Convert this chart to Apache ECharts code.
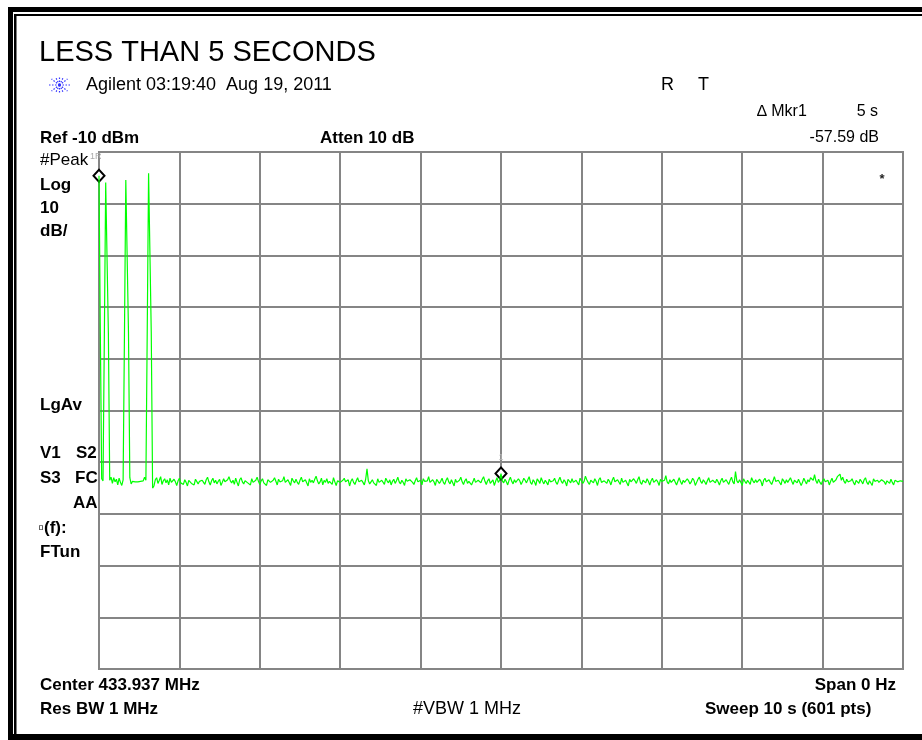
<!DOCTYPE html>
<html><head><meta charset="utf-8">
<script src="https://cdn.jsdelivr.net/npm/echarts@6/dist/echarts.min.js"></script>
<style>html,body{margin:0;padding:0;background:#fff}#c{width:922px;height:740px}</style>
</head><body><div id="c"></div>
<script>
// ---- data ----
const chartTitle = 'LESS THAN 5 SECONDS';
const headerLine = 'Agilent 03:19:40  Aug 19, 2011';
const sweepSeconds = 10;
const sweepPoints = 601;
const refLevel = -10;      // dBm, top of screen
const dbPerDiv = 10;
const yDivisions = 10;
const xDivisions = 10;
const markerIdx = [0, 300];   // 1R at 0 s, 1 at 5 s
const markerLabels = ['1R', '1'];
const leftLabels = ['#Peak', 'Log', '10', 'dB/', 'LgAv', 'V1', 'S2', 'S3', 'FC', 'AA', '\u25AB(f):', 'FTun'];
const bottomLabels = ['Center 433.937 MHz', 'Span 0 Hz', 'Res BW 1 MHz', '#VBW 1 MHz', 'Sweep 10 s (601 pts)'];
const topLabels = ['Ref -10 dBm', 'Atten 10 dB', '\u2206 Mkr1', '5 s', '-57.59 dB', 'R', 'T'];

// trace values (dBm), one per sweep point
const trace = [
-14.6,-45.0,-73.2,-73.6,-45.5,-15.9,-16.1,-45.0,-73.5,-72.9,-74.1,-73.0,-73.8,-73.3,-74.4,-73.1,-73.9,-74.5,-73.4,-45.2,
-15.4,-15.6,-44.8,-73.0,-74.2,-73.7,-73.8,-73.8,-73.9,-73.8,-73.8,-73.7,-73.9,-73.6,-72.9,-73.5,-44.5,-14.1,-14.3,-44.9,
-75.0,-74.6,-73.4,-73.0,-74.1,-73.5,-72.8,-74.3,-73.6,-73.2,-74.0,-73.4,-74.4,-73.1,-73.9,-74.2,-73.3,-73.8,-74.5,-73.6,
-73.1,-74.0,-73.7,-74.3,-73.4,-73.9,-74.6,-73.5,-73.2,-74.1,-73.8,-74.4,-73.3,-73.0,-74.2,-73.7,-74.0,-73.5,-73.9,-74.3,
-73.4,-72.9,-73.8,-74.4,-73.6,-73.1,-74.0,-73.5,-74.2,-73.7,-73.3,-74.5,-73.9,-73.2,-73.8,-74.1,-73.4,-72.8,-73.6,-74.0,
-73.5,-74.3,-73.1,-73.9,-74.6,-73.4,-73.0,-73.8,-74.2,-73.6,-73.3,-74.0,-73.7,-74.4,-73.2,-73.9,-74.1,-73.5,-72.9,-73.7,
-74.3,-73.6,-73.2,-74.0,-73.8,-74.5,-73.4,-73.1,-73.9,-74.2,-73.5,-73.0,-73.7,-74.4,-73.3,-73.8,-74.1,-73.6,-72.8,-73.9,
-74.2,-73.4,-73.7,-74.5,-73.1,-73.6,-74.0,-73.3,-73.9,-74.3,-73.5,-72.9,-73.8,-74.1,-73.4,-73.7,-74.6,-73.2,-73.9,-73.5,
-74.0,-73.3,-72.7,-73.6,-74.2,-73.8,-73.1,-74.4,-73.5,-73.9,-73.2,-74.1,-73.7,-73.4,-74.3,-73.0,-73.8,-74.5,-73.6,-73.3,
-73.9,-74.2,-73.5,-73.1,-73.8,-74.0,-73.4,-74.6,-73.7,-73.2,-73.9,-74.3,-73.6,-73.0,-73.8,-74.1,-73.5,-73.9,-74.4,-73.3,
-71.3,-73.6,-74.2,-73.8,-73.4,-74.0,-73.7,-74.5,-73.2,-73.9,-74.1,-73.5,-73.8,-74.3,-73.1,-73.6,-74.0,-73.4,-74.4,-73.7,
-73.3,-74.1,-73.6,-72.9,-73.8,-74.2,-73.5,-73.9,-74.5,-73.2,-73.7,-74.0,-73.4,-73.1,-73.9,-74.3,-73.6,-73.0,-73.8,-74.1,
-73.5,-74.4,-73.2,-73.7,-74.0,-73.6,-72.8,-73.9,-74.2,-73.4,-73.8,-74.5,-73.3,-73.6,-74.1,-73.7,-73.1,-73.9,-74.3,-73.5,
-73.0,-73.8,-74.2,-73.4,-73.7,-74.6,-73.3,-73.9,-74.0,-73.5,-72.9,-73.8,-74.3,-73.6,-73.2,-74.1,-73.7,-73.4,-74.4,-73.8,
-73.1,-73.9,-74.2,-73.5,-73.8,-74.0,-73.3,-72.8,-73.7,-74.3,-73.6,-73.2,-74.1,-73.8,-73.4,-74.5,-73.7,-73.0,-73.9,-73.5,
-72.19,-73.6,-74.0,-73.3,-73.8,-74.4,-73.5,-72.9,-73.7,-74.2,-73.4,-73.9,-74.1,-73.2,-73.6,-74.3,-73.8,-73.1,-73.5,-74.0,
-73.7,-72.8,-73.9,-74.3,-73.4,-73.8,-74.5,-73.2,-73.6,-74.1,-73.0,-73.7,-74.2,-73.5,-73.9,-74.4,-73.3,-73.8,-74.0,-73.6,
-73.1,-73.9,-74.3,-73.5,-72.9,-73.7,-74.1,-73.4,-73.8,-74.6,-73.3,-73.6,-74.0,-73.2,-73.9,-74.2,-73.5,-73.8,-74.4,-73.1,
-73.6,-74.1,-73.7,-72.7,-73.4,-73.9,-74.3,-73.5,-73.8,-74.0,-73.2,-73.7,-74.5,-73.4,-73.0,-73.9,-74.2,-73.6,-73.8,-74.1,
-73.3,-73.7,-74.4,-73.5,-72.9,-73.8,-74.0,-73.4,-73.6,-74.3,-73.1,-73.9,-74.2,-73.5,-73.7,-74.6,-73.3,-73.8,-74.0,-73.2,
-73.6,-74.1,-73.4,-72.8,-73.9,-74.3,-73.5,-73.8,-74.0,-73.2,-73.7,-74.4,-73.6,-73.1,-73.9,-74.2,-73.4,-73.8,-74.5,-73.3,
-73.7,-74.0,-73.5,-72.6,-73.8,-74.2,-73.4,-73.9,-74.1,-73.3,-73.6,-74.4,-73.7,-73.0,-73.8,-74.3,-73.5,-73.9,-74.0,-73.2,
-73.6,-74.2,-73.8,-73.1,-73.5,-74.5,-73.9,-73.3,-72.9,-73.7,-74.1,-73.4,-73.8,-74.3,-73.6,-73.0,-73.9,-74.2,-73.5,-73.7,
-74.0,-73.3,-73.8,-74.4,-73.6,-73.1,-73.9,-74.1,-73.4,-73.7,-74.3,-73.5,-72.9,-73.8,-74.2,-71.8,-73.6,-74.0,-73.4,-73.9,
-74.5,-73.2,-73.7,-74.1,-73.5,-73.8,-74.3,-73.0,-73.6,-74.0,-73.4,-73.9,-74.2,-73.3,-73.7,-74.6,-73.5,-73.1,-73.8,-74.1,
-73.4,-73.9,-74.3,-73.6,-72.8,-73.7,-74.0,-73.5,-73.8,-74.4,-73.2,-73.6,-74.1,-73.4,-73.9,-74.2,-73.0,-73.7,-74.3,-73.5,
-73.8,-74.0,-73.3,-73.6,-74.5,-73.9,-73.1,-73.7,-74.2,-73.4,-73.8,-73.0,-72.9,-73.5,-72.4,-73.6,-74.1,-73.3,-73.9,-74.3,
-73.6,-73.2,-73.8,-74.0,-73.5,-74.4,-73.7,-73.1,-73.9,-74.2,-73.4,-72.8,-73.0,-72.3,-73.5,-72.9,-73.7,-74.1,-73.3,-73.8,
-74.0,-73.6,-73.2,-73.9,-74.4,-73.5,-73.8,-74.1,-73.3,-73.7,-74.2,-73.4,-73.0,-73.9,-74.3,-73.6,-73.8,-74.5,-73.2,-73.7,
-74.0,-73.5,-73.9,-74.2,-73.4,-73.1,-73.8,-74.3,-73.6,-73.7,-74.1,-73.3,-73.9,-74.4,-73.5,-73.2,-73.8,-74.0,-73.6,-73.9,
-73.7
];

// ---- chart ----
const FF = "'Liberation Sans', Arial, sans-serif";
const chart = echarts.init(document.getElementById('c'), null, {renderer: 'canvas'});
const seriesData = trace.map((v, i) => [i * sweepSeconds / (sweepPoints - 1), v]);
const yMax = refLevel, yMin = refLevel - dbPerDiv * yDivisions;

function T(x, y, text, size, bold, opts) {
  opts = opts || {};
  return {type: 'text', x: x, y: y, z: 100, silent: true,
    style: {text: text, fill: opts.fill || '#000',
      font: (bold ? 'bold ' : '') + size + 'px ' + FF,
      textAlign: opts.align || 'left', textVerticalAlign: 'middle'}};
}
function R(x, y, w, h, c) {
  return {type: 'rect', shape: {x: x, y: y, width: w, height: h}, style: {fill: c || '#000'}, silent: true, z: 100};
}

const graphics = [
  // frame
  R(8, 7, 914, 5), R(14, 14, 908, 2),
  R(8, 7, 5, 733), R(14, 14, 2.5, 726),
  R(8, 734, 914, 6),
  // title and header
  T(39, 53, chartTitle, 29, false),
  T(86, 85, headerLine, 18, false),
  T(661, 85, topLabels[5], 18, false),
  T(698, 85, topLabels[6], 18, false),
  T(757, 112, topLabels[2], 16, false),
  T(878, 112, topLabels[3], 16, false, {align: 'right'}),
  T(879, 138, topLabels[4], 16, false, {align: 'right'}),
  T(40, 138, topLabels[0], 17, true),
  T(320, 138, topLabels[1], 17, true),
  // left annotations
  T(40, 160, leftLabels[0], 17, false),
  T(40, 185, leftLabels[1], 17, true),
  T(40, 208, leftLabels[2], 17, true),
  T(40, 231, leftLabels[3], 17, true),
  T(40, 405, leftLabels[4], 17, true),
  T(40, 453, leftLabels[5], 17, true),
  T(76, 453, leftLabels[6], 17, true),
  T(40, 478, leftLabels[7], 17, true),
  T(75, 478, leftLabels[8], 17, true),
  T(73, 503, leftLabels[9], 17, true),
  T(38, 528, leftLabels[10], 17, true),
  T(40, 552, leftLabels[11], 17, true),
  // bottom annotations
  T(40, 685, bottomLabels[0], 17, true),
  T(896, 685, bottomLabels[1], 17, true, {align: 'right'}),
  T(40, 709, bottomLabels[2], 17, true),
  T(413, 709, bottomLabels[3], 18, false),
  T(705, 709, bottomLabels[4], 17, true),
  // small marks
  T(882, 179, '*', 13, true, {fill: '#222', align: 'center'}),
  T(90, 157, markerLabels[0], 9, false, {fill: '#aaa'}),
  T(501, 458, markerLabels[1], 9, false, {fill: '#bbb', align: 'center'})
];
// Agilent spark logo
const cx = 59.5, cy = 85;
const rays = [[0, -8], [0, 8], [-11, 0], [11, 0], [-8, -6], [8, 6], [-8, 6], [8, -6], [-4, -8], [4, 8], [-4, 8], [4, -8]];
rays.forEach(function (r) {
  graphics.push({type: 'line', silent: true, z: 100,
    shape: {x1: cx, y1: cy, x2: cx + r[0], y2: cy + r[1]},
    style: {stroke: '#3535ff', lineWidth: 1.2, lineDash: [1.5, 1.5]}});
});

chart.setOption({
  animation: false,
  backgroundColor: '#fff',
  grid: {left: 99, top: 152, width: 804, height: 517, show: true, borderColor: '#858585', borderWidth: 2, backgroundColor: 'transparent'},
  xAxis: {type: 'value', min: 0, max: sweepSeconds, interval: sweepSeconds / xDivisions,
    axisLine: {show: false}, axisTick: {show: false}, axisLabel: {show: false},
    splitLine: {show: true, lineStyle: {color: '#858585', width: 2}}},
  yAxis: {type: 'value', min: yMin, max: yMax, interval: dbPerDiv,
    axisLine: {show: false}, axisTick: {show: false}, axisLabel: {show: false},
    splitLine: {show: true, lineStyle: {color: '#858585', width: 2}}},
  series: [{
    type: 'line', data: seriesData, showSymbol: false, symbol: 'none', sampling: false,
    lineStyle: {color: '#00ff00', width: 1.2}, z: 5,
    markPoint: {
      symbol: 'diamond', symbolSize: [11, 12], silent: true,
      itemStyle: {color: '#fff', borderColor: '#000', borderWidth: 2},
      label: {show: false},
      data: markerIdx.map(function (i) { return {coord: seriesData[i]}; })
    }
  }],
  graphic: graphics
});
</script></body></html>
